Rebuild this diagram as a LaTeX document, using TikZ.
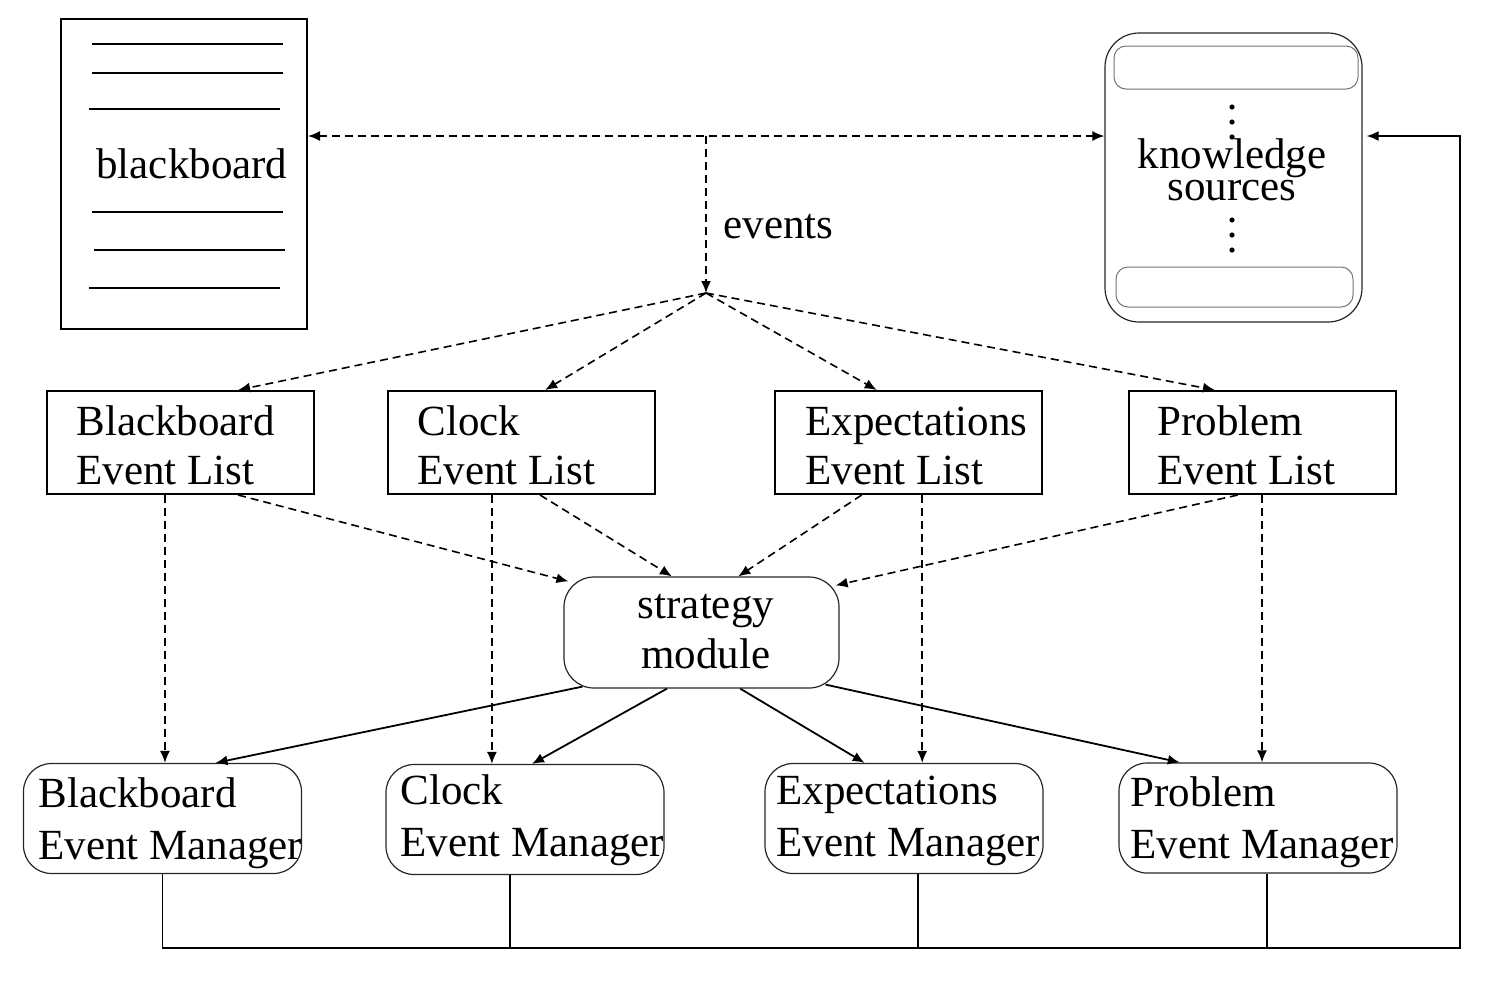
\documentclass[tikz,border=0pt]{standalone}
\usepackage{fontspec}
\setmainfont{Liberation Serif}
\usetikzlibrary{arrows.meta,calc}
\newcommand\lftcol[1]{\begin{tabular}[t]{@{}l@{}}#1\end{tabular}}
\newcommand\ctrcol[1]{\begin{tabular}[t]{@{}c@{}}#1\end{tabular}}
\begin{document}
\begin{tikzpicture}[x=0.5pt,y=-0.5pt,
  lbox/.style={draw, line width=1pt, minimum width=133.5pt, minimum height=51.5pt, inner sep=0pt},
  mbox/.style={draw=black!85, line width=0.6pt, rounded corners=14pt, minimum width=139pt, minimum height=55pt, inner sep=0pt},
  slot/.style={draw=black!55, line width=0.5pt, rounded corners=6pt, inner sep=0pt},
  txt/.style={inner sep=0pt, font=\fontsize{21.5}{24.5}\selectfont},
  mtxt/.style={inner sep=0pt, font=\fontsize{21.5}{26}\selectfont},
  stxt/.style={inner sep=0pt, font=\fontsize{21.5}{25}\selectfont},
  dline/.style={line width=1pt},
  darr/.style={line width=0.8pt, dash pattern=on 4pt off 2.5pt, -{Latex[length=6pt,width=5pt]}},
  sarr/.style={line width=0.9pt, -{Latex[length=6pt,width=5pt]}},
  sline/.style={line width=0.9pt},
  dotf/.style={fill=black}
]
\useasboundingbox (0,0) rectangle (1509,982);

% blackboard document
\node[draw, line width=1pt, minimum width=123pt, minimum height=155pt, inner sep=0pt] (bb) at (184,174) {};
\draw[dline] (92,44) -- (283,44);
\draw[dline] (92,73) -- (283,73);
\draw[dline] (89,109) -- (280,109);
\draw[dline] (92,212) -- (283,212);
\draw[dline] (94,250) -- (285,250);
\draw[dline] (89,288) -- (280,288);
\node[txt, anchor=base west] (bbt) at (96,178) {blackboard};

% knowledge sources
\node[draw=black!85, line width=0.6pt, rounded corners=17pt, minimum width=128.5pt, minimum height=144.5pt, inner sep=0pt] (ks) at (1233.5,177.5) {};
\node[slot, minimum width=122pt, minimum height=21.5pt] (ks1) at (1236,67.5) {};
\node[slot, minimum width=118.5pt, minimum height=20pt] (ks2) at (1234.5,287) {};
\foreach \yy in {107,122,137,220,235,250} \fill[dotf] (1232,\yy) circle (1.3pt);
\node[txt, anchor=base] (kst1) at (1232,168) {knowledge};
\node[txt, anchor=base] (kst2) at (1232,200) {sources};

% events
\coordinate (top) at (706,136);
\coordinate (hub) at (706,293);
\draw[darr, {Latex[length=6pt,width=5pt]}-{Latex[length=6pt,width=5pt]}] (bb.east |- top) -- (ks.west |- top);
\draw[darr] (top) -- (hub);
\node[txt, anchor=base west] (evt) at (723,238) {events};

% event lists
\node[lbox] (bbl) at (180,442.5) {};
\node[lbox] (cll) at (521.5,442.5) {};
\node[lbox] (exl) at (908.5,442.5) {};
\node[lbox] (prl) at (1262,442.5) {};
\node[txt, anchor=base west] (bblt) at (76,435) {\lftcol{Blackboard\\Event List}};
\node[txt, anchor=base west] (cllt) at (417,435) {\lftcol{Clock\\Event List}};
\node[txt, anchor=base west] (exlt) at (805,435) {\lftcol{Expectations\\Event List}};
\node[txt, anchor=base west] (prlt) at (1157,435) {\lftcol{Problem\\Event List}};

% strategy module
\node[draw=black!85, line width=0.6pt, rounded corners=15pt, minimum width=137.5pt, minimum height=55.5pt, inner sep=0pt] (st) at (701.5,632.5) {};
\node[stxt, anchor=base] (stt) at (706,618) {\ctrcol{strategy\\module}};

% managers
\node[mbox] (bbm) at (162.5,818.5) {};
\node[mbox] (clm) at (525,819.5) {};
\node[mbox] (exm) at (904,818.5) {};
\node[mbox] (prm) at (1258,818) {};
\node[mtxt, anchor=base west] (bbmt) at (38,807) {\lftcol{Blackboard\\Event Manager}};
\node[mtxt, anchor=base west] (clmt) at (400,804) {\lftcol{Clock\\Event Manager}};
\node[mtxt, anchor=base west] (exmt) at (776,804) {\lftcol{Expectations\\Event Manager}};
\node[mtxt, anchor=base west] (prmt) at (1130,806) {\lftcol{Problem\\Event Manager}};

% hub to lists
\draw[darr] (hub) -- ($(bbl.north west)!0.716!(bbl.north east)$);
\draw[darr] (hub) -- ($(cll.north west)!0.588!(cll.north east)$);
\draw[darr] (hub) -- ($(exl.north west)!0.382!(exl.north east)$);
\draw[darr] (hub) -- ($(prl.north west)!0.325!(prl.north east)$);

% lists to strategy
\draw[darr] ($(bbl.south west)!0.716!(bbl.south east)$) -- ([shift={(5,5)}]st.north west);
\draw[darr] ($(cll.south west)!0.569!(cll.south east)$) -- ($(st.north west)!0.393!(st.north east)$);
\draw[darr] ($(exl.south west)!0.326!(exl.south east)$) -- ($(st.north west)!0.633!(st.north east)$);
\draw[darr] ($(prl.south west)!0.41!(prl.south east)$) -- ([shift={(-4,9)}]st.north east);

% lists to managers
\coordinate (bbd) at ($(bbl.south west)!0.444!(bbl.south east)$);
\coordinate (cld) at ($(cll.south west)!0.39!(cll.south east)$);
\coordinate (exd) at ($(exl.south west)!0.551!(exl.south east)$);
\coordinate (prd) at ($(prl.south west)!0.5!(prl.south east)$);
\draw[darr] (bbd) -- (bbd |- bbm.north);
\draw[darr] (cld) -- (cld |- clm.north);
\draw[darr] (exd) -- (exd |- exm.north);
\draw[darr] (prd) -- (prd |- prm.north);

% strategy to managers
\draw[sarr] ([shift={(19,-2)}]st.south west) -- ($(bbm.north west)!0.69!(bbm.north east)$);
\draw[sarr] ($(st.south west)!0.375!(st.south east)$) -- ($(clm.north west)!0.525!(clm.north east)$);
\draw[sarr] ($(st.south west)!0.64!(st.south east)$) -- ($(exm.north west)!0.359!(exm.north east)$);
\draw[sarr] ([shift={(-14,-4)}]st.south east) -- ($(prm.north west)!0.22!(prm.north east)$);

% feedback bus
\coordinate (bl) at (163,948);
\coordinate (br) at (1460,948);
\coordinate (cls) at ($(clm.south west)!0.446!(clm.south east)$);
\coordinate (exs) at ($(exm.south west)!0.551!(exm.south east)$);
\coordinate (prs) at ($(prm.south west)!0.532!(prm.south east)$);
\draw[sline] (cls) -- (cls |- bl);
\draw[sline] (exs) -- (exs |- bl);
\draw[sline] (prs) -- (prs |- bl);
\draw[sline, -{Latex[length=6pt,width=5pt]}] (bbm.south) -- (bbm.south |- bl) -- (br) -- (br |- top) -- ([xshift=2pt]ks.east |- top);
\end{tikzpicture}
\end{document}
